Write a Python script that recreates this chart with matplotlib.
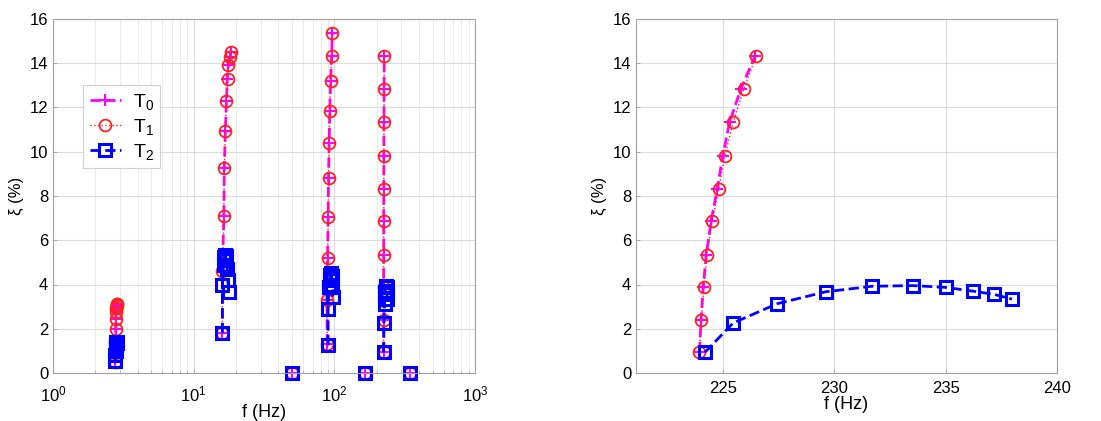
import numpy as np
import matplotlib
matplotlib.use("Agg")
import matplotlib.pyplot as plt

plt.rcParams['font.family'] = ['Liberation Sans', 'DejaVu Sans']
plt.rcParams['mathtext.default'] = 'regular'

# ---------------- data ----------------
# Left panel: modes (frequency in Hz, damping ratio in %)
t0_freq_modes = [
    [2.76, 2.77, 2.78, 2.79, 2.80, 2.81, 2.82, 2.83, 2.84, 2.85],
    [16.0, 16.0, 16.4, 16.5, 16.8, 17.1, 17.35, 17.6, 18.0, 18.3],
    [89.0, 88.5, 89.5, 90.4, 90.9, 91.9, 92.8, 94.1, 95.7, 96.6],
    [223.95, 224.02, 224.12, 224.25, 224.47, 224.75, 225.0, 225.3, 225.8, 226.45],
    [50.1], [164.0], [345.0],
]
t0_damp_modes = [
    [0.5, 0.9, 1.4, 2.0, 2.45, 2.75, 2.95, 3.05, 3.1, 3.13],
    [1.8, 4.6, 7.1, 9.25, 10.95, 12.3, 13.3, 13.9, 14.3, 14.5],
    [1.3, 3.3, 5.2, 7.05, 8.8, 10.4, 11.85, 13.2, 14.35, 15.35],
    [0.95, 2.41, 3.89, 5.33, 6.85, 8.33, 9.82, 11.33, 12.82, 14.34],
    [0.0], [0.0], [0.0],
]
t1_freq_modes = [
    [2.76, 2.77, 2.78, 2.79, 2.80, 2.81, 2.82, 2.83, 2.84, 2.85],
    [16.0, 16.0, 16.4, 16.5, 16.8, 17.1, 17.4, 17.6, 18.1, 18.4],
    [89.0, 88.5, 89.5, 90.4, 90.9, 91.9, 92.8, 94.1, 95.7, 96.6],
    [223.94, 224.04, 224.15, 224.29, 224.52, 224.82, 225.09, 225.46, 225.93, 226.5],
    [50.1], [164.0], [345.0],
]
t1_damp_modes = [
    [0.5, 0.9, 1.4, 2.0, 2.45, 2.75, 2.95, 3.05, 3.1, 3.13],
    [1.8, 4.6, 7.1, 9.25, 10.95, 12.3, 13.3, 13.9, 14.3, 14.5],
    [1.3, 3.3, 5.2, 7.05, 8.8, 10.4, 11.85, 13.2, 14.35, 15.35],
    [0.95, 2.41, 3.89, 5.33, 6.85, 8.33, 9.82, 11.33, 12.82, 14.34],
    [0.0], [0.0], [0.0],
]
t2_freq_modes = [
    [2.77, 2.78, 2.79, 2.80, 2.80, 2.81, 2.82, 2.82, 2.83, 2.84],
    [16.0, 16.0, 16.3, 16.5, 16.7, 16.9, 17.1, 17.3, 17.5, 17.7],
    [90.3, 90.3, 91.5, 92.5, 93.5, 94.5, 95.5, 96.3, 97.0, 97.3],
    [224.19, 225.46, 227.43, 229.61, 231.69, 233.53, 235.0, 236.23, 237.19, 237.98],
    [50.1], [164.0], [345.0],
]
t2_damp_modes = [
    [0.55, 0.8, 1.0, 1.15, 1.25, 1.35, 1.4, 1.42, 1.4, 1.35],
    [1.8, 4.0, 4.9, 5.25, 5.35, 5.3, 5.1, 4.7, 4.2, 3.65],
    [1.25, 2.9, 3.9, 4.25, 4.45, 4.5, 4.4, 4.2, 3.9, 3.45],
    [0.93, 2.26, 3.13, 3.67, 3.92, 3.95, 3.87, 3.70, 3.55, 3.34],
    [0.0], [0.0], [0.0],
]

# Right panel: zoom on the mode near 225 Hz
r_t0_freq = [223.95, 224.02, 224.12, 224.25, 224.47, 224.75, 225.0, 225.3, 225.8, 226.45]
r_t0_damp = [0.95, 2.41, 3.89, 5.33, 6.85, 8.33, 9.82, 11.33, 12.82, 14.34]
r_t1_freq = [223.94, 224.04, 224.15, 224.29, 224.52, 224.82, 225.09, 225.46, 225.93, 226.5]
r_t1_damp = [0.95, 2.41, 3.89, 5.33, 6.85, 8.33, 9.82, 11.33, 12.82, 14.34]
r_t2_freq = [224.19, 225.46, 227.43, 229.61, 231.69, 233.53, 235.0, 236.23, 237.19, 237.98]
r_t2_damp = [0.93, 2.26, 3.13, 3.67, 3.92, 3.95, 3.87, 3.70, 3.55, 3.34]

legend_labels = ['T$_0$', 'T$_1$', 'T$_2$']

# ---------------- styles ----------------
st0 = dict(color='#ff00ff', linestyle='--', linewidth=2.0, marker='+', markersize=8,
           markeredgewidth=1.5, clip_on=False)
st1 = dict(color='#ff2020', linestyle=':', linewidth=1.0, marker='o', markersize=8.5,
           markerfacecolor='none', markeredgewidth=1.3, clip_on=False)
st2 = dict(color='#0000ff', linestyle='--', linewidth=2.0, marker='s', markersize=8.5,
           markerfacecolor='none', markeredgewidth=2.2, clip_on=False)

fig = plt.figure(figsize=(11.01, 4.21), dpi=100)
axL = fig.add_axes([53/1101, 1-373/421, 422/1101, 354/421])
axR = fig.add_axes([636/1101, 1-373/421, 421/1101, 354/421])

def style_axes(ax, xpad):
    for s in ax.spines.values():
        s.set_color('#a0a0a0')
        s.set_linewidth(0.8)
    ax.tick_params(direction='in', length=3, colors='#a0a0a0', labelcolor='black',
                   labelsize=12, width=0.6)
    ax.tick_params(axis='x', pad=xpad)
    ax.tick_params(which='minor', direction='in', length=2, colors='#a0a0a0', width=0.5)
    ax.set_axisbelow(True)

# Left
h0 = h1 = h2 = None
for f, d in zip(t0_freq_modes, t0_damp_modes):
    h0, = axL.plot(f, d, **st0)
for f, d in zip(t1_freq_modes, t1_damp_modes):
    h1, = axL.plot(f, d, **st1)
for f, d in zip(t2_freq_modes, t2_damp_modes):
    h2, = axL.plot(f, d, **st2)
axL.set_xscale('log')
axL.set_xlim(1, 1000)
axL.set_ylim(0, 16)
axL.set_yticks(np.arange(0, 17, 2))
axL.grid(True, which='major', color='#dcdcdc', linewidth=0.8)
axL.grid(True, which='minor', color='#e8e8e8', linewidth=0.6)
axL.set_xlabel('f (Hz)', fontsize=13, labelpad=0)
axL.set_ylabel('ξ (%)', fontsize=12, labelpad=4)
style_axes(axL, 8)
leg = axL.legend([h0, h1, h2], legend_labels, loc='upper left',
                 bbox_to_anchor=(30/422, 1-(85-19)/354), borderaxespad=0,
                 fontsize=14, handlelength=1.6,
                 borderpad=0.35, labelspacing=0.25, handletextpad=0.6, fancybox=False,
                 framealpha=1)
leg.get_frame().set_edgecolor('#d0d0d0')
leg.get_frame().set_linewidth(0.8)

# Right
axR.plot(r_t0_freq, r_t0_damp, **st0)
axR.plot(r_t1_freq, r_t1_damp, **st1)
axR.plot(r_t2_freq, r_t2_damp, **st2)
axR.set_xlim(221.1, 240)
axR.set_ylim(0, 16)
axR.set_xticks([225, 230, 235, 240])
axR.set_yticks(np.arange(0, 17, 2))
axR.grid(True, color='#dcdcdc', linewidth=0.8)
axR.set_xlabel('f (Hz)', fontsize=13, labelpad=0)
axR.set_ylabel('ξ (%)', fontsize=12, labelpad=4)
style_axes(axR, 6)

fig.savefig('out.png', dpi=100)
